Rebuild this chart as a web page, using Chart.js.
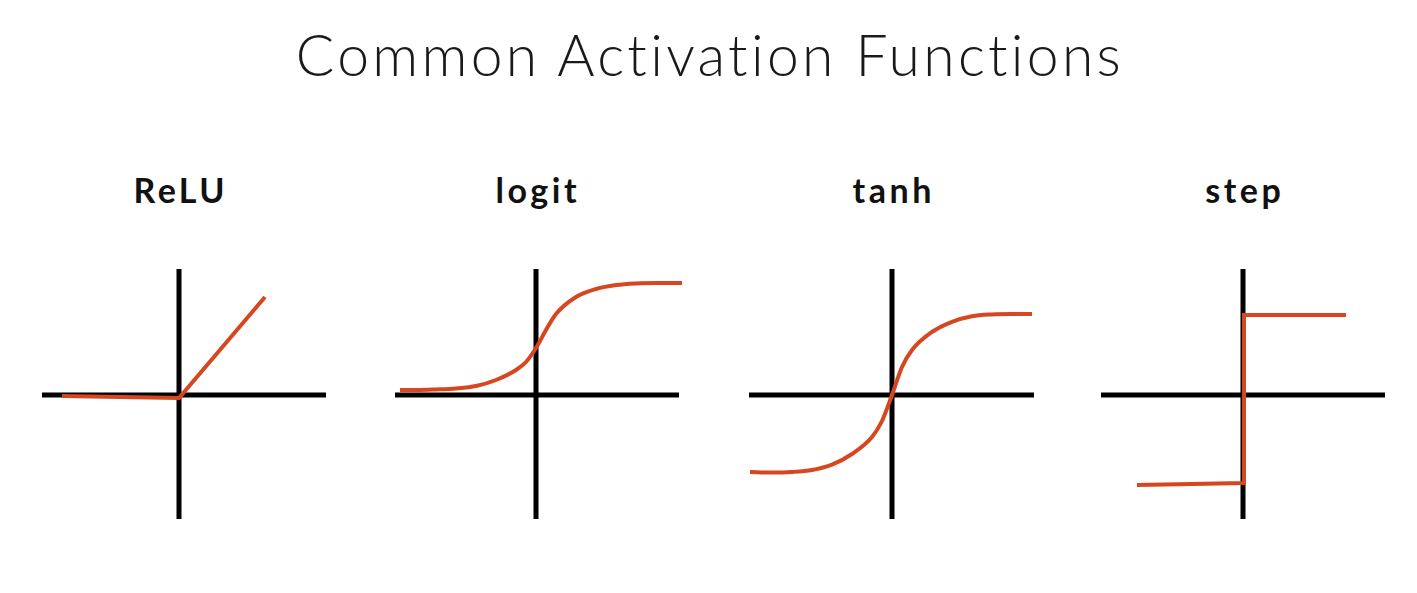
<!DOCTYPE html>
<html>
<head>
<meta charset="utf-8">
<script src="https://cdn.jsdelivr.net/npm/chart.js@4"></script>
<style>
  html, body { margin: 0; padding: 0; background: #fff; }
  #page { position: relative; width: 1417px; height: 593px; overflow: hidden; }
  #title {
    position: absolute; left: 0; width: 1417px; top: 26px;
    text-align: center; font-family: Lato, sans-serif; font-weight: 300;
    font-size: 57px; line-height: 57px; color: #1a1a1a;
    letter-spacing: 3.3px; text-indent: 3px;
  }
  .label {
    position: absolute; width: 240px; margin-left: -120px; top: 173px;
    text-align: center; font-family: Lato, sans-serif; font-weight: 700;
    font-size: 34px; line-height: 34px; color: #111;
    letter-spacing: 3.5px; text-indent: 3.5px;
  }
  canvas { position: absolute; }
</style>
</head>
<body>
<div id="page">
  <div id="title">Common Activation Functions</div>
</div>
<script>
// panel titles and where each panel's origin sits on the page
const names = ['ReLU', 'logit', 'tanh', 'step'];
const originX = [179, 536, 892, 1243];
const originY = 395;

// axis extents for each panel (in chart units)
const axisLeft = [-6.85, -7.05, -7.15, -7.1];
const axisRight = [7.35, 7.15, 7.1, 7.1];
const axisTop = [6.3, 6.3, 6.3, 6.3];
const axisBottom = [-6.2, -6.2, -6.2, -6.2];

// curves
const reluX = [-5.85, 0, 4.3];
const reluY = [-0.05, -0.15, 4.9];

const logitX = [-6.8, -6, -5, -4, -3, -2, -1, -0.5, 0, 0.5, 1, 2, 3, 4, 5, 6, 7.3];
const logitY = [0.25, 0.25, 0.28, 0.33, 0.45, 0.75, 1.25, 1.65, 2.35, 3.25, 4.05, 4.9, 5.3, 5.5, 5.58, 5.6, 5.6];

const tanhX = [-7.1, -6, -5, -4, -3, -2, -1, -0.5, 0, 0.5, 1, 2, 3, 4, 5, 6, 7];
const tanhY = [-3.85, -3.88, -3.85, -3.75, -3.48, -2.95, -2.1, -1.3, 0, 1.4, 2.25, 3.15, 3.66, 3.94, 4.03, 4.05, 4.05];

const stepX = [-5.3, 0.05, 0.05, 5.15];
const stepY = [-4.5, -4.4, 4.0, 4.0];

const curvesX = [reluX, logitX, tanhX, stepX];
const curvesY = [reluY, logitY, tanhY, stepY];
const smooth = [false, true, true, false];

const orange = '#d6461f';
const pxPerUnit = 20;
const halfW = 7.5, halfH = 7;

function pts(xs, ys) {
    return xs.map((x, i) => ({ x: x, y: ys[i] }));
}

const page = document.getElementById('page');

names.forEach(function(name, k) {
    const label = document.createElement('div');
    label.className = 'label';
    label.style.left = originX[k] + 'px';
    label.textContent = name;
    page.appendChild(label);

    const w = halfW * 2 * pxPerUnit, h = halfH * 2 * pxPerUnit;
    const canvas = document.createElement('canvas');
    canvas.width = w;
    canvas.height = h;
    canvas.style.left = (originX[k] - w / 2) + 'px';
    canvas.style.top = (originY - h / 2) + 'px';
    page.appendChild(canvas);

    new Chart(canvas.getContext('2d'), {
        type: 'scatter',
        data: {
            datasets: [
                {
                    data: pts(curvesX[k], curvesY[k]),
                    showLine: true,
                    borderColor: orange,
                    borderWidth: 4,
                    pointRadius: 0,
                    cubicInterpolationMode: smooth[k] ? 'monotone' : 'default',
                    tension: 0,
                    borderJoinStyle: 'miter',
                    order: 0
                },
                {
                    data: pts([axisLeft[k], axisRight[k]], [0, 0]),
                    showLine: true,
                    borderColor: '#000',
                    borderWidth: 5,
                    pointRadius: 0,
                    order: 1
                },
                {
                    data: pts([0, 0], [axisTop[k], axisBottom[k]]),
                    showLine: true,
                    borderColor: '#000',
                    borderWidth: 5,
                    pointRadius: 0,
                    order: 1
                }
            ]
        },
        options: {
            responsive: false,
            animation: false,
            devicePixelRatio: 1,
            layout: { padding: 0 },
            plugins: { legend: { display: false }, tooltip: { enabled: false } },
            scales: {
                x: { type: 'linear', min: -halfW, max: halfW, display: false },
                y: { type: 'linear', min: -halfH, max: halfH, display: false }
            }
        }
    });
});
</script>
</body>
</html>
